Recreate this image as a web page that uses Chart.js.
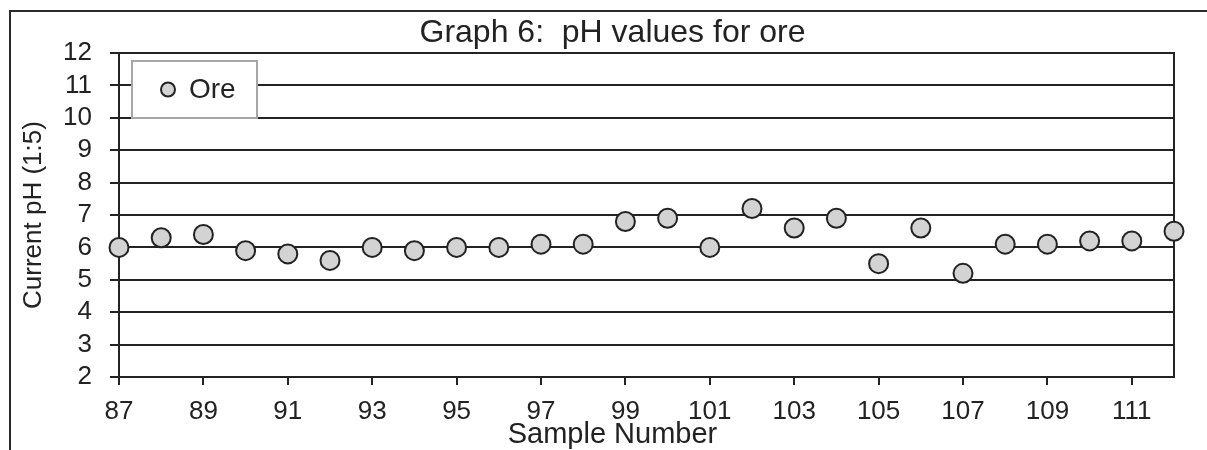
<!DOCTYPE html>
<html><head><meta charset="utf-8">
<script src="https://cdn.jsdelivr.net/npm/chart.js@4/dist/chart.umd.min.js"></script>
<style>
html,body{margin:0;padding:0;background:#fff;}
#wrap{position:relative;width:1207px;height:450px;}
#frame{position:absolute;left:9px;top:10px;right:0;bottom:0;border-left:2px solid #2b2b2b;border-top:2px solid #2b2b2b;pointer-events:none;}
canvas{position:absolute;left:0;top:0;}
</style></head><body>
<div id="wrap"><canvas id="c" width="1207" height="450"></canvas><div id="frame"></div></div>
<script>
const sampleNumbers = [87,88,89,90,91,92,93,94,95,96,97,98,99,100,101,102,103,104,105,106,107,108,109,110,111,112];
const phValues = [6.0,6.3,6.4,5.9,5.8,5.6,6.0,5.9,6.0,6.0,6.1,6.1,6.8,6.9,6.0,7.2,6.6,6.9,5.5,6.6,5.2,6.1,6.1,6.2,6.2,6.5];
const xTickLabels = [87,89,91,93,95,97,99,101,103,105,107,109,111];
const seriesLabel = 'Ore';
const chartTitle = 'Graph 6:  pH values for ore';
const xTitle = 'Sample Number';
const yTitle = 'Current pH (1:5)';

Chart.defaults.font.family = '"Liberation Sans", Arial, sans-serif';
Chart.defaults.color = '#222';

const INK = '#232323';

const legendBox = {
  id: 'legendBox',
  afterDatasetsDraw(chart) {
    const {ctx, chartArea: a} = chart;
    const ds = chart.data.datasets[0];
    const x = a.left + 13, y = a.top + 8, w = 125, h = 57;
    ctx.save();
    ctx.fillStyle = '#fff';
    ctx.fillRect(x, y, w, h);
    ctx.strokeStyle = '#a6a6a6';
    ctx.lineWidth = 2;
    ctx.strokeRect(x, y, w, h);
    ctx.beginPath();
    ctx.arc(x + 36, y + h / 2, 7, 0, Math.PI * 2);
    ctx.fillStyle = ds.backgroundColor;
    ctx.fill();
    ctx.lineWidth = 2;
    ctx.strokeStyle = ds.borderColor;
    ctx.stroke();
    ctx.font = '28px "Liberation Sans", Arial, sans-serif';
    ctx.fillStyle = '#222';
    ctx.textBaseline = 'middle';
    ctx.textAlign = 'left';
    ctx.fillText(ds.label, x + 57, y + h / 2 + 1);
    ctx.restore();
  }
};

new Chart(document.getElementById('c'), {
  type: 'scatter',
  data: {
    datasets: [{
      label: seriesLabel,
      data: sampleNumbers.map((s, i) => ({x: s, y: phValues[i]})),
      pointRadius: 9.5,
      pointHoverRadius: 9.5,
      pointBorderWidth: 2,
      backgroundColor: '#d3d3d3',
      borderColor: '#222',
      showLine: false,
      clip: false
    }]
  },
  options: {
    responsive: false,
    animation: false,
    devicePixelRatio: 1,
    layout: {padding: {left: 18, right: 0, top: 0, bottom: 0}},
    plugins: {
      legend: {display: false},
      tooltip: {enabled: false},
      title: {
        display: true,
        text: chartTitle,
        color: '#222',
        font: {size: 32, weight: 'normal', lineHeight: 1.2},
        padding: {top: 13.8, bottom: 0.8}
      },
      subtitle: {
        display: true,
        position: 'bottom',
        text: xTitle,
        color: '#222',
        font: {size: 29, weight: 'normal', lineHeight: 1.05},
        padding: {top: 0, bottom: 0}
      }
    },
    scales: {
      x: {
        type: 'linear',
        min: 87,
        max: 112,
        afterBuildTicks: s => { s.ticks = xTickLabels.map(v => ({value: v})); },
        afterFit: s => { s.height = 42.5; },
        grid: {display: true, drawOnChartArea: false, drawTicks: true, tickLength: 8, color: INK, lineWidth: 2},
        border: {display: true, color: INK, width: 2},
        ticks: {font: {size: 26}, color: '#222', padding: 11, maxRotation: 0, autoSkip: false}
      },
      y: {
        type: 'linear',
        min: 2,
        max: 12,
        afterFit: s => { s.width = 101; },
        grid: {display: true, drawOnChartArea: true, drawTicks: true, tickLength: 9, color: INK, lineWidth: 2},
        border: {display: true, color: INK, width: 2},
        ticks: {stepSize: 1, autoSkip: false, font: {size: 26}, color: '#222', padding: 18},
        title: {display: true, text: yTitle, color: '#222', font: {size: 26}, padding: {top: 0, bottom: 0}}
      },
      y2: {
        type: 'linear',
        position: 'right',
        display: true,
        afterFit: s => { s.width = 33; },
        grid: {display: false},
        ticks: {display: false},
        border: {display: true, color: INK, width: 2}
      }
    }
  },
  plugins: [legendBox]
});
</script>
</body></html>
